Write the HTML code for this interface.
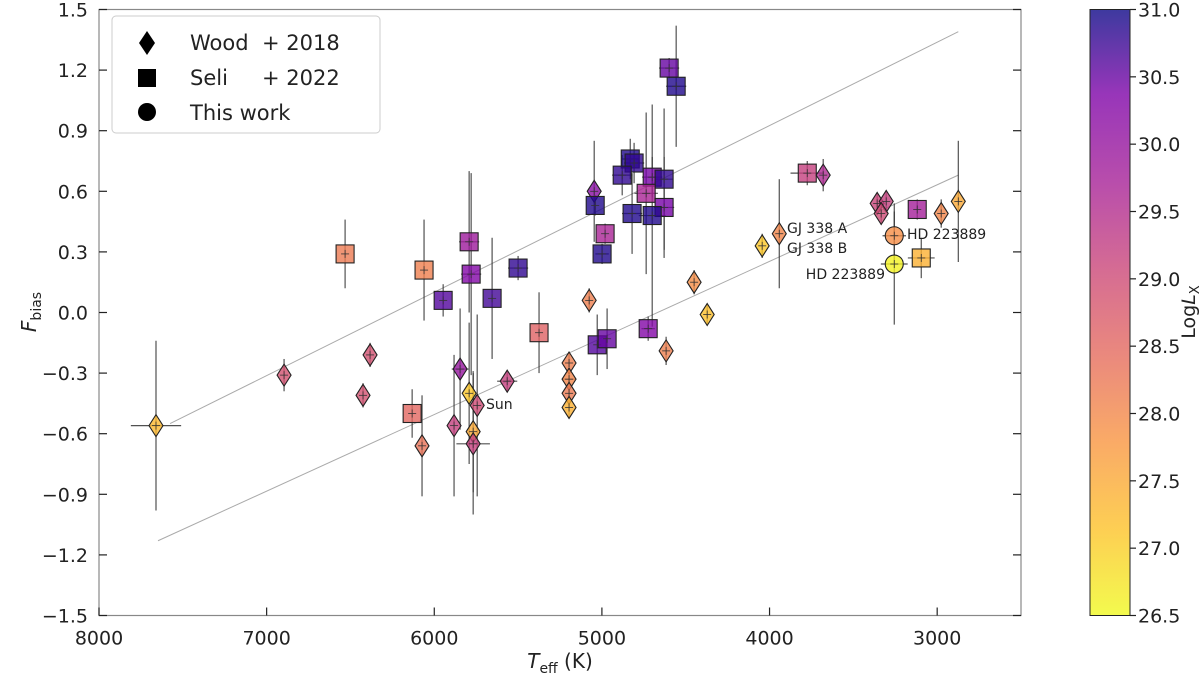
<!DOCTYPE html>
<html><head><meta charset="utf-8"><style>
body{margin:0;background:#fff;}
svg{display:block;font-family:"DejaVu Sans","Liberation Sans",sans-serif;}
</style></head><body>
<svg id="chart" width="1200" height="680" viewBox="0 0 1200 680">
<defs>
<linearGradient id="cbgrad" x1="0" y1="1" x2="0" y2="0">
<stop offset="0" stop-color="#f0f921"/><stop offset="0.14" stop-color="#fdc328"/><stop offset="0.29" stop-color="#f89441"/><stop offset="0.43" stop-color="#e56b5d"/><stop offset="0.57" stop-color="#cb4778"/><stop offset="0.71" stop-color="#a82296"/><stop offset="0.86" stop-color="#7e03a8"/><stop offset="1" stop-color="#0d0887"/>
</linearGradient>
</defs>
<g id="plot"></g>
</svg>
<script>
const temps=[7660,6896,6383,6425,6532,6061,5947,5792,5780,5655,5500,5375,5046,5040,4981,4999,4831,4808,4879,4700,4629,4736,4629,4820,4700,4599,4557,5076,4450,4372,4724,5028,4969,4617,5846,5565,5792,5744,6132,5882,6073,5768,5768,5196,5196,5196,5196,3775,3680,4044,3942,3358,3304,3334,3119,2976,2874,3256,3256,3095];
const fbias=[-0.56,-0.31,-0.21,-0.41,0.29,0.21,0.06,0.35,0.19,0.07,0.22,-0.10,0.60,0.53,0.39,0.29,0.76,0.74,0.68,0.67,0.66,0.59,0.52,0.49,0.48,1.21,1.12,0.06,0.15,-0.01,-0.08,-0.16,-0.13,-0.19,-0.28,-0.34,-0.40,-0.46,-0.50,-0.56,-0.66,-0.59,-0.65,-0.25,-0.33,-0.40,-0.47,0.69,0.68,0.33,0.39,0.54,0.55,0.49,0.51,0.49,0.55,0.38,0.24,0.27];
const logLx=[27.3,28.9,28.9,28.9,28.2,28.1,30.6,29.9,30.3,30.7,30.8,28.6,30.2,30.9,29.7,30.9,30.9,30.8,30.8,30.4,30.8,29.7,30.4,30.9,30.9,30.5,30.9,28.1,27.9,27.2,30.3,30.6,30.5,28.1,30.0,29.2,27.1,29.0,28.5,29.2,28.3,27.5,29.2,28.1,28.0,28.2,27.4,29.2,29.6,27.1,28.0,29.1,29.2,29.0,29.8,28.0,27.5,27.9,26.6,27.4];
const kinds=["D","D","D","D","S","S","S","S","S","S","S","S","D","S","S","S","S","S","S","S","S","S","S","S","S","S","S","D","D","D","S","S","S","D","D","D","D","D","S","D","D","D","D","D","D","D","D","S","D","D","D","D","D","D","S","D","D","C","C","S"];
const terr=[150,0,0,0,0,0,0,60,60,0,60,0,0,0,0,40,50,60,60,60,50,70,60,60,80,60,60,0,0,0,40,0,0,0,50,60,0,0,0,0,0,0,100,0,40,0,0,100,0,0,0,0,0,0,0,0,0,70,80,80];
const ferr=[0.42,0.08,0.06,0.06,0.17,0.25,0.08,0.35,0.5,0.3,0.06,0.2,0.25,0.05,0.05,0.05,0.1,0.1,0.1,0.1,0.35,0.4,0.25,0.2,0.55,0.05,0.3,0.06,0.06,0.05,0.06,0.15,0.15,0.07,0.3,0.05,0.35,0.45,0.12,0.35,0.25,0.3,0.35,0.05,0.05,0.05,0.05,0.06,0.08,0.06,0.27,0.05,0.05,0.05,0.05,0.07,0.3,0.12,0.3,0.1];
const lineT0=[7576,7648], lineF0=[-0.55,-1.13], lineT1=[2874,2874], lineF1=[1.39,0.68];
const yTicks=[-1.5,-1.2,-0.9,-0.6,-0.3,0.0,0.3,0.6,0.9,1.2,1.5];
const xTicks=[8000,7000,6000,5000,4000,3000];
const cbTicks=[26.5,27.0,27.5,28.0,28.5,29.0,29.5,30.0,30.5,31.0];

const L=99,R=1021,T=9.5,B=615.5;
const xs=t=>L+(8000-t)/5500*(R-L);
const ys=f=>B-(f+1.5)/3*(B-T);
const NS="http://www.w3.org/2000/svg";
const g=document.getElementById('plot');
function mk(tag,attrs,parent){const e=document.createElementNS(NS,tag);for(const k in attrs)e.setAttribute(k,attrs[k]);(parent||g).appendChild(e);return e;}
const plasma=[[13,8,135],[126,3,168],[168,34,150],[203,71,120],[229,107,93],[248,148,65],[253,195,40],[240,249,33]];
function cmap(v){let u=(31-v)/4.5;u=Math.max(0,Math.min(1,u));const p=u*7,i=Math.min(6,Math.floor(p)),fr=p-i;const c=plasma[i].map((a,k)=>Math.round(a+(plasma[i+1][k]-a)*fr));return `rgb(${c.join(',')})`;}

for(let i=0;i<lineT0.length;i++){
 const ln=mk('line',{x1:xs(lineT0[i]),y1:ys(lineF0[i]),x2:xs(lineT1[i]),y2:ys(lineF1[i]),stroke:'#aaa','stroke-width':1});
 
 
}
for(let i=0;i<temps.length;i++){
 const x=xs(temps[i]),y=ys(fbias[i]);
 const v=mk('line',{x1:x,x2:x,y1:ys(fbias[i]+ferr[i]),y2:ys(fbias[i]-ferr[i]),stroke:'#333','stroke-width':1.2,'stroke-opacity':0.85});
 
 
 if(terr[i]>0){const h=mk('line',{x1:xs(temps[i]+terr[i]),x2:xs(temps[i]-terr[i]),y1:y,y2:y,stroke:'#333','stroke-width':1.2,'stroke-opacity':0.85});
 
 }
}
for(let i=0;i<temps.length;i++){
 const x=xs(temps[i]),y=ys(fbias[i]),c=cmap(logLx[i]);let m;
 const st={fill:c,'fill-opacity':0.8,stroke:'#222','stroke-width':1.1};
 if(kinds[i]==='S')m=mk('rect',Object.assign({x:x-9,y:y-9,width:18,height:18},st));
 else if(kinds[i]==='D')m=mk('polygon',Object.assign({points:`${x},${y-11} ${x+7},${y} ${x},${y+11} ${x-7},${y}`},st));
 else m=mk('circle',Object.assign({cx:x,cy:y,r:9},st));
 
 
 mk('line',{x1:x,x2:x,y1:y-4,y2:y+4,stroke:'#333','stroke-width':0.8});
 mk('line',{x1:x-4,x2:x+4,y1:y,y2:y,stroke:'#333','stroke-width':0.8});
}
mk('rect',{x:L,y:T,width:R-L,height:B-T,fill:'none',stroke:'#888','stroke-width':1.2});
yTicks.forEach(v=>{const y=ys(v);
 mk('line',{x1:L,x2:L+8,y1:y,y2:y,stroke:'#222','stroke-width':1.2});
 mk('line',{x1:R-8,x2:R,y1:y,y2:y,stroke:'#222','stroke-width':1.2});
 const t=mk('text',{x:L-11,y:y+7,'text-anchor':'end','font-size':19,fill:'#222'});
 t.textContent=(v<0?'\u2212':'')+Math.abs(v).toFixed(1);
 
 
});
xTicks.forEach(v=>{const x=xs(v);
 mk('line',{x1:x,x2:x,y1:B-8,y2:B,stroke:'#222','stroke-width':1.2});
 const t=mk('text',{x:x,y:B+29,'text-anchor':'middle','font-size':19,fill:'#222'});
 t.textContent=v;
 
 
});
cbTicks.forEach(v=>{const y=B-(v-26.5)/4.5*(B-T);
 mk('line',{x1:1130,x2:1136,y1:y,y2:y,stroke:'#222','stroke-width':1.2});
 const t=mk('text',{x:1138,y:y+7,'font-size':19,fill:'#222'});
 t.textContent=v.toFixed(1);
 
 
});
</script>
<script>
const s=document.getElementById('chart');
s.insertAdjacentHTML('beforeend',`
<rect x="1090" y="9.5" width="40" height="606" fill="url(#cbgrad)" fill-opacity="0.8" stroke="#222" stroke-width="1"/>
<text transform="translate(1195,312) rotate(-90)" text-anchor="middle" font-size="19" fill="#222">Log<tspan font-style="italic">L</tspan><tspan font-size="13" dy="4">X</tspan></text>
<text x="560" y="668" text-anchor="middle" font-size="20" fill="#222"><tspan font-style="italic">T</tspan><tspan font-size="14" dy="5">eff</tspan><tspan dy="-5"> (K)</tspan></text>
<text transform="translate(36,312) rotate(-90)" text-anchor="middle" font-size="20" fill="#222"><tspan font-style="italic">F</tspan><tspan font-size="14" dy="5">bias</tspan></text>
<g>
<rect x="112" y="16" width="268" height="117" rx="4" fill="#fff" fill-opacity="0.9" stroke="#ccc"/>
<polygon points="147,31 155,43 147,55 139,43" fill="#000"/>
<text x="190" y="50" font-size="21" fill="#222">Wood</text>
<text x="262" y="50" font-size="21" fill="#222">+ 2018</text>
<rect x="138" y="69" width="18" height="18" fill="#000"/>
<text x="190" y="85" font-size="21" fill="#222">Seli</text>
<text x="262" y="85" font-size="21" fill="#222">+ 2022</text>
<circle cx="147" cy="112" r="9" fill="#000"/>
<text x="190" y="120" font-size="21" fill="#222">This work</text>
</g>
<text x="486" y="409" font-size="14" fill="#222">Sun</text>
<text x="787" y="233" font-size="14" fill="#222">GJ 338 A</text>
<text x="787" y="253" font-size="14" fill="#222">GJ 338 B</text>
<text x="907" y="239" font-size="14" fill="#222">HD 223889</text>
<text x="885" y="279" text-anchor="end" font-size="14" fill="#222">HD 223889</text>
`);
</script>
</body></html>
